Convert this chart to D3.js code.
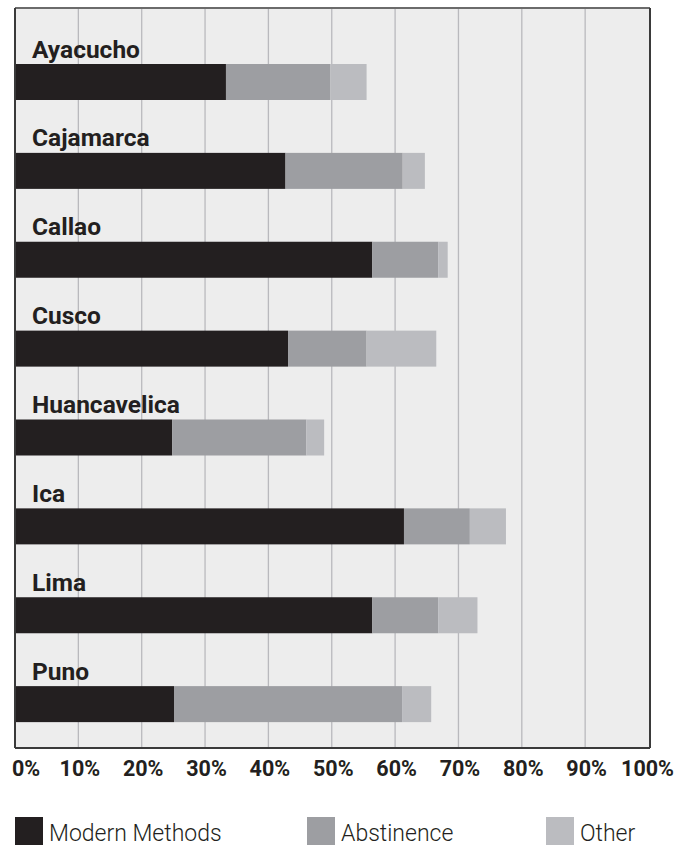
<!DOCTYPE html>
<html><head><meta charset="utf-8">
<script src="https://cdn.jsdelivr.net/npm/d3@7"></script>
<style>
html,body{margin:0;padding:0;background:#fff;}
svg{display:block;}
</style></head>
<body>
<svg id="chart" width="674" height="846"></svg>
<script>
const regions = ["Ayacucho","Cajamarca","Callao","Cusco","Huancavelica","Ica","Lima","Puno"];
const modernMethods = [33.3, 42.7, 56.4, 43.1, 24.8, 61.4, 56.4, 25.1];
const abstinence   = [16.5, 18.5, 10.4, 12.4, 21.2, 10.4, 10.4, 36.0];
const other        = [ 5.7,  3.5,  1.5, 11.0,  2.8,  5.7,  6.2,  4.6];
const seriesNames = ["Modern Methods","Abstinence","Other"];
const seriesColors = ["#231f20","#9d9ea2","#bbbcc0"];
const tickValues = [0,10,20,30,40,50,60,70,80,90,100];
const tickLabels = ["0%","10%","20%","30%","40%","50%","60%","70%","80%","90%","100%"];

const svg = d3.select("#chart");
const pLeft = 15, pRight = 650, pTop = 8, pBottom = 748;

const x = d3.scaleLinear().domain([0,100]).range([pLeft, pRight - 1.5]);
const y = d3.scaleBand().domain(regions).range([19, 730]).padding(0);

// background
svg.append("rect").attr("x", pLeft).attr("y", pTop).attr("width", pRight-pLeft).attr("height", pBottom-pTop).attr("fill", "#ededed");

// gridlines
svg.append("g").selectAll("line").data(tickValues.slice(1,-1)).join("line")
  .attr("x1", d=>x(d)).attr("x2", d=>x(d)).attr("y1", pTop).attr("y2", pBottom)
  .attr("stroke", "#b9b9bd").attr("stroke-width", 1.3);

// stacked data
const rows = regions.map((r,i)=>({region:r, "Modern Methods":modernMethods[i], "Abstinence":abstinence[i], "Other":other[i]}));
const stack = d3.stack().keys(seriesNames)(rows);
const barOffset = 45, barH = 36;
svg.append("g").selectAll("g").data(stack).join("g")
  .attr("fill", (d,i)=>seriesColors[i])
  .selectAll("rect").data(d=>d).join("rect")
  .attr("x", d=>x(d[0])).attr("width", d=>x(d[1])-x(d[0]))
  .attr("y", d=>y(d.data.region)+barOffset).attr("height", barH);

// region labels
svg.append("g").selectAll("text").data(regions).join("text")
  .attr("x", 32).attr("y", d=>y(d)+barOffset-6.5)
  .attr("font-family", "Roboto, 'Noto Sans', sans-serif").attr("font-weight", 700)
  .attr("font-size", 24.5).attr("fill", "#231f20").text(d=>d);

// border
svg.append("line").attr("x1", pLeft).attr("x2", pRight).attr("y1", pTop).attr("y2", pTop).attr("stroke", "#6b6b6b").attr("stroke-width", 2);
svg.append("line").attr("x1", pLeft).attr("x2", pLeft).attr("y1", pTop).attr("y2", pBottom).attr("stroke", "#3a3a3a").attr("stroke-width", 2);
svg.append("line").attr("x1", pRight).attr("x2", pRight).attr("y1", pTop).attr("y2", pBottom).attr("stroke", "#3a3a3a").attr("stroke-width", 2);
svg.append("line").attr("x1", pLeft).attr("x2", pRight).attr("y1", pBottom).attr("y2", pBottom).attr("stroke", "#3a3a3a").attr("stroke-width", 2);

// x axis labels
const axis = d3.axisBottom(x).tickValues(tickValues).tickFormat((d,i)=>tickLabels[i]).tickSize(0).tickPadding(0);
const ax = svg.append("g").attr("transform", `translate(0,${pBottom})`).call(axis);
ax.select(".domain").remove();
ax.selectAll("text")
  .attr("y", 28).attr("dy", 0)
  .attr("font-family", "Roboto, 'Noto Sans', sans-serif").attr("font-weight", 700)
  .attr("font-size", 21.5).attr("fill", "#231f20")
  .attr("dx", d=> d===0 ? 10.5 : (d===100 ? -1.5 : 1));

// legend
const legendX = [15, 307, 546];
const lg = svg.append("g").selectAll("g").data(seriesNames).join("g")
  .attr("transform", (d,i)=>`translate(${legendX[i]},817)`);
lg.append("rect").attr("width", 28).attr("height", 28).attr("fill", (d,i)=>seriesColors[i]);
lg.append("text").attr("x", 34).attr("y", 24)
  .attr("font-family", "Roboto, 'Noto Sans', sans-serif").attr("font-weight", 300)
  .attr("font-size", 23).attr("fill", "#231f20").text(d=>d);
</script>
</body></html>
